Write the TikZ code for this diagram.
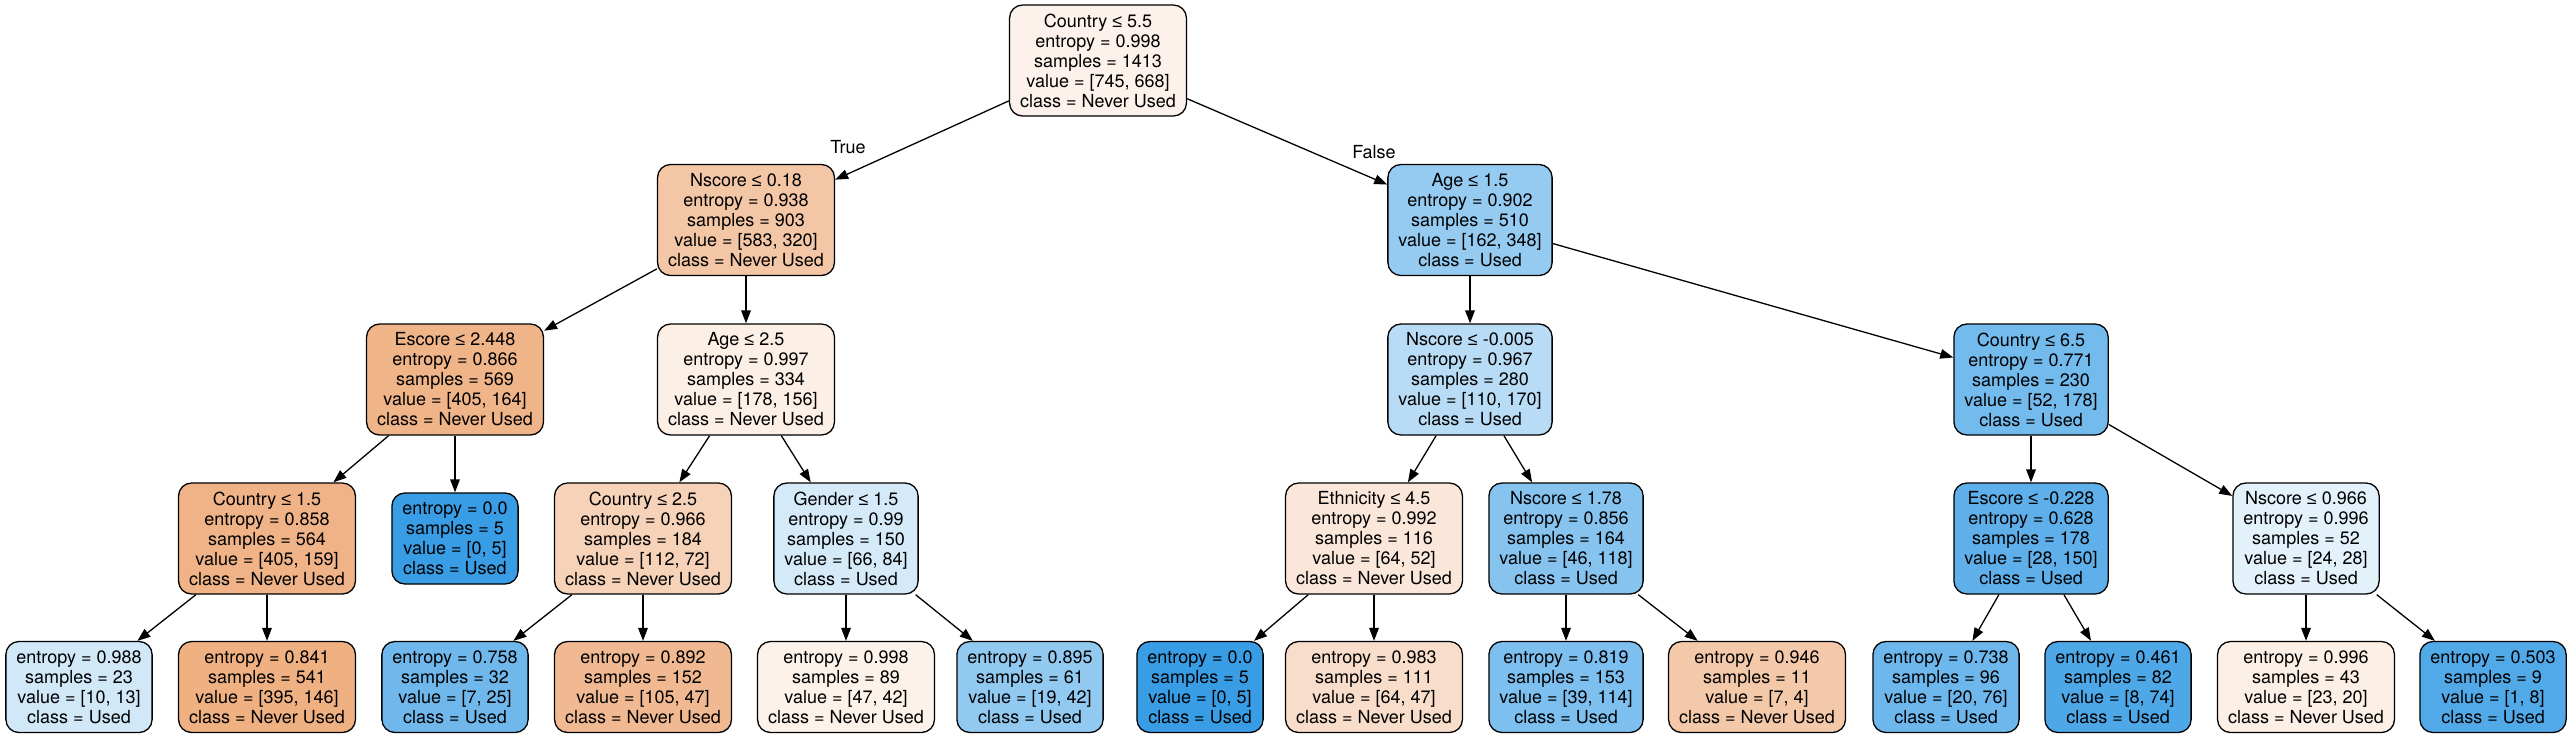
\documentclass[tikz,border=0pt]{standalone}
\usepackage{fontspec}
\setmainfont{TeX Gyre Heros}
\newfontfamily\lsans{Liberation Sans}
\newcommand{\myle}{{\lsans ≤}}
\usetikzlibrary{arrows.meta}
\definecolor{nv}{RGB}{229,129,57}
\definecolor{us}{RGB}{57,157,229}
\tikzset{
  tn/.style={draw=black, line width=0.65pt, rounded corners=6.5pt, align=center,
    font=\fontsize{9}{10}\selectfont, inner xsep=5.25pt, inner ysep=0pt, minimum height=55.5pt},
  lf/.style={tn, minimum height=45.5pt},
  ed/.style={-{Triangle[length=6.5pt,width=4.8pt]}, line width=0.65pt},
  el/.style={font=\fontsize{9}{10}\selectfont, inner sep=0pt},
}
\begin{document}
\begin{tikzpicture}[x=0.5pt,y=-0.5pt]
\useasboundingbox (0,0) rectangle (2573,736);
% row 0
\node[tn, fill=nv!10.3!white] (n0) at (1098,60.5) {Country \myle{} 5.5\\entropy = 0.998\\samples = 1413\\value = [745, 668]\\class = Never Used};
% row 1
\node[tn, fill=nv!45.1!white] (n1) at (746,220) {Nscore \myle{} 0.18\\entropy = 0.938\\samples = 903\\value = [583, 320]\\class = Never Used};
\node[tn, fill=us!53.4!white] (n2) at (1470,220) {Age \myle{} 1.5\\entropy = 0.902\\samples = 510\\value = [162, 348]\\class = Used};
% row 2
\node[tn, fill=nv!59.5!white] (n3) at (455,379.5) {Escore \myle{} 2.448\\entropy = 0.866\\samples = 569\\value = [405, 164]\\class = Never Used};
\node[tn, fill=nv!12.4!white] (n4) at (746,379.5) {Age \myle{} 2.5\\entropy = 0.997\\samples = 334\\value = [178, 156]\\class = Never Used};
\node[tn, fill=us!35.3!white] (n5) at (1470,379.5) {Nscore \myle{} -0.005\\entropy = 0.967\\samples = 280\\value = [110, 170]\\class = Used};
\node[tn, fill=us!70.8!white] (n6) at (2031,379.5) {Country \myle{} 6.5\\entropy = 0.771\\samples = 230\\value = [52, 178]\\class = Used};
% row 3
\node[tn, fill=nv!60.7!white] (n7) at (267,538.5) {Country \myle{} 1.5\\entropy = 0.858\\samples = 564\\value = [405, 159]\\class = Never Used};
\node[lf, fill=us] (n8) at (455,538.5) {entropy = 0.0\\samples = 5\\value = [0, 5]\\class = Used};
\node[tn, fill=nv!35.7!white] (n9) at (643,538.5) {Country \myle{} 2.5\\entropy = 0.966\\samples = 184\\value = [112, 72]\\class = Never Used};
\node[tn, fill=us!21.4!white] (n10) at (846,538.5) {Gender \myle{} 1.5\\entropy = 0.99\\samples = 150\\value = [66, 84]\\class = Used};
\node[tn, fill=nv!18.75!white] (n11) at (1374,538.5) {Ethnicity \myle{} 4.5\\entropy = 0.992\\samples = 116\\value = [64, 52]\\class = Never Used};
\node[tn, fill=us!61!white] (n12) at (1566,538.5) {Nscore \myle{} 1.78\\entropy = 0.856\\samples = 164\\value = [46, 118]\\class = Used};
\node[tn, fill=us!81.3!white] (n13) at (2031,538.5) {Escore \myle{} -0.228\\entropy = 0.628\\samples = 178\\value = [28, 150]\\class = Used};
\node[tn, fill=us!14.3!white] (n14) at (2306,538.5) {Nscore \myle{} 0.966\\entropy = 0.996\\samples = 52\\value = [24, 28]\\class = Used};
% row 4 leaves
\node[lf, fill=us!23.1!white] (l1) at (79,687) {entropy = 0.988\\samples = 23\\value = [10, 13]\\class = Used};
\node[lf, fill=nv!63!white] (l2) at (267,687) {entropy = 0.841\\samples = 541\\value = [395, 146]\\class = Never Used};
\node[lf, fill=us!72!white] (l3) at (455,687) {entropy = 0.758\\samples = 32\\value = [7, 25]\\class = Used};
\node[lf, fill=nv!55.2!white] (l4) at (643,687) {entropy = 0.892\\samples = 152\\value = [105, 47]\\class = Never Used};
\node[lf, fill=nv!10.6!white] (l5) at (846,687) {entropy = 0.998\\samples = 89\\value = [47, 42]\\class = Never Used};
\node[lf, fill=us!54.8!white] (l6) at (1030,687) {entropy = 0.895\\samples = 61\\value = [19, 42]\\class = Used};
\node[lf, fill=us] (l7) at (1200,687) {entropy = 0.0\\samples = 5\\value = [0, 5]\\class = Used};
\node[lf, fill=nv!26.6!white] (l8) at (1374,687) {entropy = 0.983\\samples = 111\\value = [64, 47]\\class = Never Used};
\node[lf, fill=us!65.8!white] (l9) at (1566,687) {entropy = 0.819\\samples = 153\\value = [39, 114]\\class = Used};
\node[lf, fill=nv!42.9!white] (l10) at (1757,687) {entropy = 0.946\\samples = 11\\value = [7, 4]\\class = Never Used};
\node[lf, fill=us!73.7!white] (l11) at (1946,687) {entropy = 0.738\\samples = 96\\value = [20, 76]\\class = Used};
\node[lf, fill=us!89.2!white] (l12) at (2118,687) {entropy = 0.461\\samples = 82\\value = [8, 74]\\class = Used};
\node[lf, fill=nv!13!white] (l13) at (2306,687) {entropy = 0.996\\samples = 43\\value = [23, 20]\\class = Never Used};
\node[lf, fill=us!87.5!white] (l14) at (2493,687) {entropy = 0.503\\samples = 9\\value = [1, 8]\\class = Used};
% edge labels
\node[el] (tl) at (848,147) {True};
\node[el] (fl) at (1374,152) {False};
% edges
\draw[ed] (n0) -- (n1);
\draw[ed] (n0) -- (n2);
\draw[ed] (n1) -- (n3);
\draw[ed] (n1) -- (n4);
\draw[ed] (n2) -- (n5);
\draw[ed] (n2) -- (n6);
\draw[ed] (n3) -- (n7);
\draw[ed] (n3) -- (n8);
\draw[ed] (n4) -- (n9);
\draw[ed] (n4) -- (n10);
\draw[ed] (n5) -- (n11);
\draw[ed] (n5) -- (n12);
\draw[ed] (n6) -- (n13);
\draw[ed] (n6) -- (n14);
\draw[ed] (n7) -- (l1);
\draw[ed] (n7) -- (l2);
\draw[ed] (n9) -- (l3);
\draw[ed] (n9) -- (l4);
\draw[ed] (n10) -- (l5);
\draw[ed] (n10) -- (l6);
\draw[ed] (n11) -- (l7);
\draw[ed] (n11) -- (l8);
\draw[ed] (n12) -- (l9);
\draw[ed] (n12) -- (l10);
\draw[ed] (n13) -- (l11);
\draw[ed] (n13) -- (l12);
\draw[ed] (n14) -- (l13);
\draw[ed] (n14) -- (l14);
\end{tikzpicture}
\end{document}
